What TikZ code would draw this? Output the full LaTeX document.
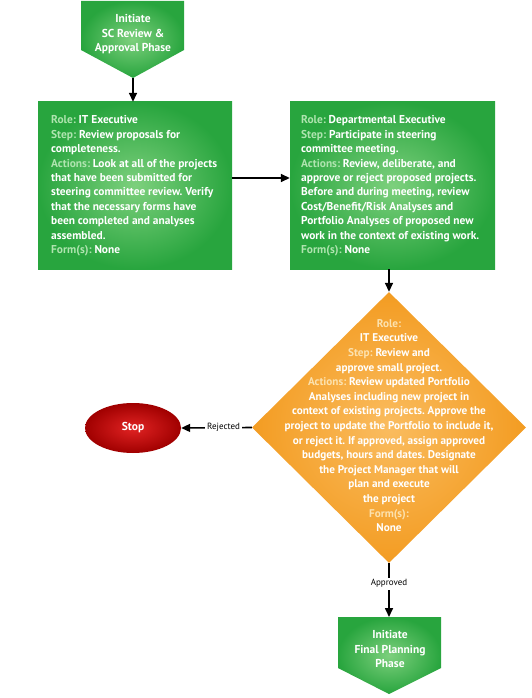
\documentclass[tikz,border=0pt]{standalone}
\usepackage{fontspec}
\setmainfont{PT Sans}
\usetikzlibrary{shapes.geometric,arrows.meta}
\definecolor{gout}{RGB}{40,165,62}
\definecolor{gin}{RGB}{125,208,125}
\definecolor{gtag}{RGB}{175,228,175}
\definecolor{oout}{RGB}{243,156,34}
\definecolor{oin}{RGB}{250,188,95}
\definecolor{otag}{RGB}{252,226,175}
\definecolor{rout}{RGB}{160,0,0}
\definecolor{rin}{RGB}{225,35,35}
\tikzset{
  gbox/.style={rectangle, inner color=gin, outer color=gout, inner sep=0pt},
  btext/.style={text=white, font=\fontsize{11.4}{14.4}\selectfont\bfseries, align=left, inner sep=0pt, anchor=west},
  gtext/.style={text=white, font=\fontsize{11.5}{14.5}\selectfont\bfseries, align=center},
  dtext/.style={text=white, font=\fontsize{11.2}{14.6}\selectfont\bfseries, align=center},
  flow/.style={line width=1.6pt, -{Triangle[length=9pt,width=8pt]}},
  lbl/.style={fill=white, text=black, font=\fontsize{9}{10}\selectfont, inner sep=2pt}
}
\newcommand{\gt}[1]{\textcolor{gtag}{#1}}
\newcommand{\ot}[1]{\textcolor{otag}{#1}}
\begin{document}
\frenchspacing
\begin{tikzpicture}[x=1pt,y=-1pt]
\useasboundingbox (0,0) rectangle (531,698);
% top pentagon
\shade[inner color=gin, outer color=gout] (81,1) -- (184,1) -- (184,50) -- (133,78) -- (81,50) -- cycle;
\node[gtext] (start) at (133,34.5) {Initiate\\SC Review \&\\Approval Phase};
\coordinate (starttip) at (133,78);
% box 1
\node[gbox, minimum width=194pt, minimum height=167pt] (b1) at (135,185.5) {};
\node[btext] (b1t) at (51,186) {%
\gt{Role:} IT Executive\\
\gt{Step:} Review proposals for\\
completeness.\\
\gt{Actions:} Look at all of the projects\\
that have been submitted for\\
steering committee review. Verify\\
that the necessary forms have\\
been completed and analyses\\
assembled.\\
\gt{Form(s):} None};
% box 2
\node[gbox, minimum width=205pt, minimum height=167pt] (b2) at (392.5,185.5) {};
\node[btext] (b2t) at (301,186) {%
\gt{Role:} Departmental Executive\\
\gt{Step:} Participate in steering\\
committee meeting.\\
\gt{Actions:} Review, deliberate, and\\
approve or reject proposed projects.\\
Before and during meeting, review\\
Cost/Benefit/Risk Analyses and\\
Portfolio Analyses of proposed new\\
work in the context of existing work.\\
\gt{Form(s):} None};
% diamond
\node[diamond, inner sep=0pt, minimum width=274pt, minimum height=271pt, inner color=oin, outer color=oout] (dia) at (389,427.5) {};
\node[dtext] (diatext) at (389,425.5) {%
\ot{Role:}\\
IT Executive\\
\ot{Step:} Review and\\
approve small project.\\
\ot{Actions:} Review updated Portfolio\\
Analyses including new project in\\
context of existing projects. Approve the\\
project to update the Portfolio to include it,\\
or reject it. If approved, assign approved\\
budgets, hours and dates. Designate\\
the Project Manager that will\\
plan and execute\\
the project\\
\ot{Form(s):}\\
None};
% stop ellipse
\node[ellipse, inner color=rin, outer color=rout, minimum width=96pt, minimum height=50pt, text=white, font=\fontsize{11.5}{12}\selectfont\bfseries] (stop) at (133,428) {Stop};
% bottom pentagon
\shade[inner color=gin, outer color=gout] (338,617) -- (441,617) -- (441,668) -- (389,694) -- (338,668) -- cycle;
\coordinate (endtop) at (389,617);
\node[gtext] (endp) at (390,649) {Initiate\\Final Planning\\Phase};
% connectors
\draw[flow] (starttip) -- (b1.north -| starttip);
\draw[flow] (b1.east |- 0,178) -- (b2.west |- 0,178);
\draw[flow] (dia.north |- b2.south) -- (dia.north);
\draw[flow] (dia.west) -- node[lbl, pos=0.4] (rej) {Rejected} (stop.east);
\draw[flow] (dia.south) -- node[lbl, pos=0.38] (app) {Approved} (endtop);
\end{tikzpicture}
\end{document}
